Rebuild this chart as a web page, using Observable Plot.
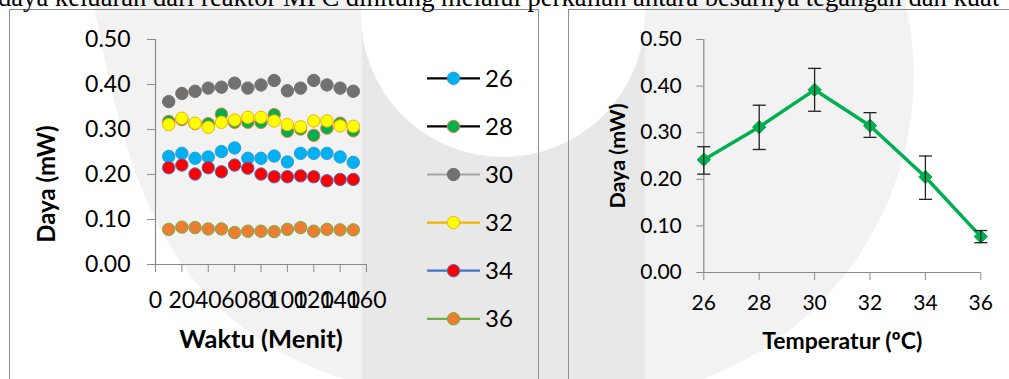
<!DOCTYPE html>
<html><head><meta charset="utf-8">
<script src="https://cdn.jsdelivr.net/npm/d3@7"></script>
<script src="https://cdn.jsdelivr.net/npm/@observablehq/plot@0.6"></script>
<style>
html,body{margin:0;padding:0;background:#fff;overflow:hidden}
#root{position:relative;width:1009px;height:379px;overflow:hidden;font-family:Lato,sans-serif}
#root svg{position:absolute;left:0;top:0}
</style></head>
<body><div id="root"></div>
<script>
// ---------- data ----------
const minutes = [10,20,30,40,50,60,70,80,90,100,110,120,130,140,150];
const seriesNames = ["26","28","30","32","34","36"];
const p26 = [0.240,0.247,0.236,0.239,0.251,0.259,0.236,0.236,0.241,0.228,0.247,0.247,0.247,0.239,0.227];
const p28 = [0.318,0.322,0.313,0.313,0.334,0.316,0.316,0.316,0.333,0.296,0.301,0.287,0.303,0.314,0.297];
const p30 = [0.362,0.380,0.385,0.392,0.394,0.403,0.392,0.399,0.409,0.386,0.392,0.409,0.399,0.392,0.385];
const p32 = [0.311,0.325,0.314,0.305,0.316,0.321,0.327,0.327,0.319,0.311,0.306,0.319,0.319,0.308,0.307];
const p34 = [0.215,0.221,0.201,0.215,0.206,0.221,0.214,0.201,0.195,0.195,0.197,0.195,0.186,0.189,0.189];
const p36 = [0.078,0.083,0.082,0.079,0.079,0.071,0.074,0.074,0.073,0.078,0.082,0.074,0.078,0.077,0.077];
const seriesValues = [p26,p28,p30,p32,p34,p36];
const minuteTicks = [0,20,40,60,80,100,120,140,160];
const powerTicks = [0,0.1,0.2,0.3,0.4,0.5];

const temps = [26,28,30,32,34,36];
const meanPower = [0.242,0.312,0.392,0.315,0.205,0.077];
const errHigh = [0.270,0.359,0.438,0.343,0.250,0.090];
const errLow = [0.211,0.264,0.346,0.290,0.157,0.064];

const topText = "daya keluaran dari reaktor MFC dihitung melalui perkalian antara besarnya tegangan dan kuat";
const leftXLabel = "Waktu (Menit)";
const yLabel = "Daya (mW)";
const rightXLabel = "Temperatur (ºC)";

// ---------- styles ----------
const dotFills = ["#00B0F0","#00B050","#737070","#FFFF00","#FF0000","#ED7D31"];
const dotStrokes = ["#2E9FD8","#ED7D31","#737070","#F0B400","#4472C4","#70AD47"];
const legendLines = ["#000000","#000000","#A5A5A5","#F0B400","#4472C4","#70AD47"];
const axisColor = "#8A8A8A";
const fmt = d3.format(".2f");

const root = d3.select("#root");
const W = 1009, H = 379;

// ---------- background (watermark + boxes + top text) ----------
const bg = root.append("svg").attr("width", W).attr("height", H);
bg.append("rect").attr("width", W).attr("height", H).attr("fill", "#fff");
bg.append("rect").attr("x", 362).attr("width", 283).attr("height", H).attr("fill", "#E8E8E8");
bg.append("rect").attr("x", 93).attr("width", 269).attr("height", H).attr("fill", "#F2F2F2");
bg.append("path").attr("d", "M645,0 L905,0 A325,325 0 0,1 703,379 L645,379 Z").attr("fill", "#F2F2F2");
bg.append("circle").attr("cx", 503).attr("cy", 15).attr("r", 142).attr("fill", "#fff");
bg.append("path").attr("d", "M0,0 L93,0 C125,170 160,320 345,379 L0,379 Z").attr("fill", "#fff");
bg.append("rect").attr("x", 9.5).attr("y", 9.5).attr("width", 529).attr("height", 420)
  .attr("fill", "none").attr("stroke", "#8E8E8E");
bg.append("rect").attr("x", 568.5).attr("y", 9.5).attr("width", 480).attr("height", 420)
  .attr("fill", "none").attr("stroke", "#8E8E8E");
bg.append("text").attr("x", -2).attr("y", 6)
  .attr("font-family", "'Liberation Serif', 'Times New Roman', serif").attr("font-size", 26.6)
  .attr("fill", "#000").text(topText);

// ---------- left chart ----------
const leftMarks = [
  Plot.ruleX([0], {stroke: axisColor, strokeWidth: 1.2}),
  Plot.ruleY([0], {stroke: axisColor, strokeWidth: 1.2}),
  Plot.axisY({ticks: powerTicks, tickFormat: fmt, tickSize: 8, tickPadding: 17, stroke: axisColor, label: null}),
  Plot.axisX({ticks: minuteTicks, tickSize: 8, tickPadding: 19, stroke: axisColor, label: null}),
];
seriesValues.forEach((vals, i) => {
  const rows = minutes.map((m, j) => ({t: m, p: vals[j]}));
  leftMarks.push(Plot.dot(rows, {x: "t", y: "p", r: 6.2, fill: dotFills[i], stroke: dotStrokes[i], strokeWidth: 1}));
});
leftMarks.push(Plot.text([leftXLabel], {frameAnchor: "bottom", textAnchor: "middle", lineAnchor: "middle", dy: 75, fontWeight: "bold", fontSize: 25.5}));
leftMarks.push(Plot.text([yLabel], {frameAnchor: "left", textAnchor: "middle", lineAnchor: "middle", rotate: -90, dx: -108, dy: 32, fontWeight: "bold", fontSize: 24}));

const leftPlot = Plot.plot({
  width: 540, height: 379,
  marginLeft: 155, marginRight: 174, marginTop: 39, marginBottom: 115,
  style: {background: "transparent", fontFamily: "Lato, sans-serif", fontSize: "23px", color: "#000", overflow: "visible"},
  x: {domain: [0, 160]},
  y: {domain: [0, 0.5]},
  marks: leftMarks
});
leftPlot.style.position = "absolute"; leftPlot.style.left = "0px"; leftPlot.style.top = "0px";
root.node().appendChild(leftPlot);

// ---------- legend ----------
const lg = root.append("svg").attr("width", W).attr("height", H);
seriesNames.forEach((name, i) => {
  const cy = 78.3 + i * 48.1;
  lg.append("line").attr("x1", 427).attr("x2", 480).attr("y1", cy).attr("y2", cy)
    .attr("stroke", legendLines[i]).attr("stroke-width", 2.2);
  lg.append("circle").attr("cx", 453.5).attr("cy", cy).attr("r", 6.2)
    .attr("fill", dotFills[i]).attr("stroke", dotStrokes[i]).attr("stroke-width", 1);
  lg.append("text").attr("x", 485).attr("y", cy).attr("dy", "0.36em")
    .attr("font-family", "Lato, sans-serif").attr("font-size", 24).attr("fill", "#000").text(name);
});

// ---------- right chart ----------
const capSymbol = {draw(ctx, size) { const w = Math.sqrt(size / Math.PI); ctx.moveTo(-w, 0); ctx.lineTo(w, 0); }};
const tRows = temps.map((t, i) => ({t, m: meanPower[i], hi: errHigh[i], lo: errLow[i]}));
const rightPlot = Plot.plot({
  width: 469, height: 379,
  marginLeft: 163.3, marginRight: 28.7, marginTop: 39, marginBottom: 107,
  style: {background: "transparent", fontFamily: "Lato, sans-serif", fontSize: "21px", color: "#000", overflow: "visible"},
  x: {domain: [26, 36]},
  y: {domain: [0, 0.5]},
  marks: [
    Plot.ruleX([26], {stroke: axisColor, strokeWidth: 1.2}),
    Plot.ruleY([0], {stroke: axisColor, strokeWidth: 1.2}),
    Plot.axisY({ticks: powerTicks, tickFormat: fmt, tickSize: 7, tickPadding: 15, stroke: axisColor, label: null}),
    Plot.axisX({ticks: temps, tickSize: 8, tickPadding: 15, stroke: axisColor, label: null}),
    Plot.line(tRows, {x: "t", y: "m", stroke: "#00B050", strokeWidth: 3.5}),
    Plot.dot(tRows, {x: "t", y: "m", symbol: "diamond2", r: 6, fill: "#00B050", stroke: "#00B050", strokeWidth: 1}),
    Plot.ruleX(tRows, {x: "t", y1: "lo", y2: "hi", stroke: "#222", strokeWidth: 1.3}),
    Plot.dot(tRows, {x: "t", y: "hi", symbol: capSymbol, r: 6.5, fill: "none", stroke: "#222", strokeWidth: 1.3}),
    Plot.dot(tRows, {x: "t", y: "lo", symbol: capSymbol, r: 6.5, fill: "none", stroke: "#222", strokeWidth: 1.3}),
    Plot.text([rightXLabel], {frameAnchor: "bottom", textAnchor: "middle", lineAnchor: "middle", dy: 69, fontWeight: "bold", fontSize: 23}),
    Plot.text([yLabel], {frameAnchor: "left", textAnchor: "middle", lineAnchor: "middle", rotate: -90, dx: -86, dy: 0, fontWeight: "bold", fontSize: 21.5})
  ]
});
rightPlot.style.position = "absolute"; rightPlot.style.left = "540px"; rightPlot.style.top = "0px";
root.node().appendChild(rightPlot);
</script>
</body></html>
